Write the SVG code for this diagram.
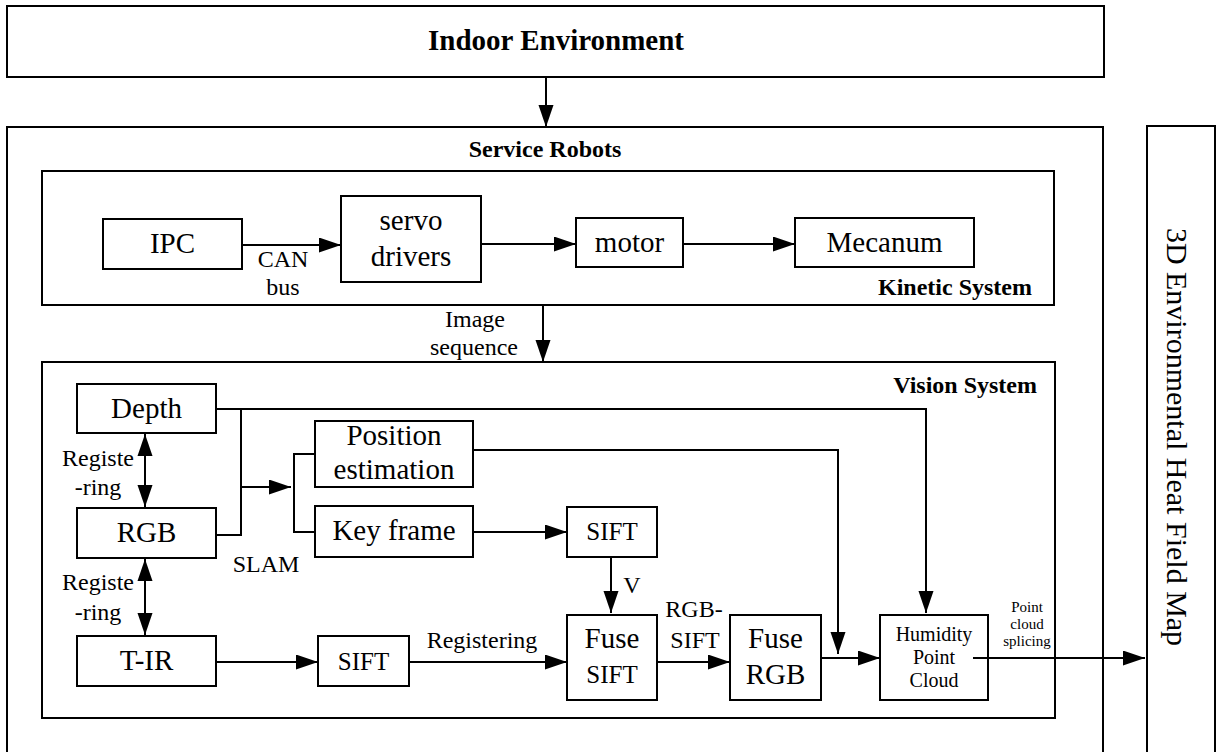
<svg xmlns="http://www.w3.org/2000/svg" width="1216" height="752" viewBox="0 0 1216 752">
<defs>
<marker id="ah" markerUnits="userSpaceOnUse" markerWidth="23" markerHeight="16" refX="22" refY="7.5" orient="auto">
<path d="M0,0 L22,7.5 L0,15 z" fill="#000"/>
</marker>
<marker id="ahs" markerUnits="userSpaceOnUse" markerWidth="23" markerHeight="16" refX="0" refY="7.5" orient="auto">
<path d="M22,0 L0,7.5 L22,15 z" fill="#000"/>
</marker>
<style>
text{font-family:"Liberation Serif","Times New Roman",serif;fill:#000}
.box{fill:#fff;stroke:#000;stroke-width:2}
.frame{fill:none;stroke:#000;stroke-width:2}
.n{font-size:29px;text-anchor:middle}
.s{font-size:25px;text-anchor:middle}
.b{font-size:24px;font-weight:bold}
.l{font-size:24px;text-anchor:middle}
.hp{font-size:20px;text-anchor:middle}
.sm{font-size:15px;text-anchor:middle}
.c{fill:none;stroke:#000;stroke-width:2}
.a{marker-end:url(#ah)}
.d{marker-start:url(#ahs);marker-end:url(#ah)}
</style>
</defs>
<rect width="1216" height="752" fill="#fff"/>

<g id="indoor">
<rect class="box" x="7" y="6" width="1097" height="71"/>
<text class="b" x="556" y="50" text-anchor="middle" style="font-size:29px">Indoor Environment</text>
</g>

<g id="service-robots">
<rect class="frame" x="7" y="127" width="1096" height="650"/>
<text class="b" x="545" y="157" text-anchor="middle">Service Robots</text>
</g>

<g id="map3d">
<rect class="frame" x="1147" y="126" width="68" height="650"/>
<text transform="translate(1167,437) rotate(90)" style="font-size:30px" text-anchor="middle">3D Environmental Heat Field Map</text>
</g>

<g id="kinetic-system">
<rect class="frame" x="42" y="171" width="1012" height="134"/>
<text class="b" x="1032" y="295" text-anchor="end">Kinetic System</text>
</g>

<g id="ipc"><rect class="box" x="103" y="219" width="139" height="50"/><text class="n" x="172.5" y="253">IPC</text></g>
<g id="servo"><rect class="box" x="341" y="196" width="140" height="86"/><text class="n" x="411" y="230">servo</text><text class="n" x="411" y="266">drivers</text></g>
<g id="motor"><rect class="box" x="576" y="218" width="107" height="49"/><text class="n" x="629.5" y="252">motor</text></g>
<g id="mecanum"><rect class="box" x="795" y="218" width="179" height="49"/><text class="n" x="884.5" y="252">Mecanum</text></g>

<g id="vision-system">
<rect class="frame" x="42" y="362" width="1013" height="356"/>
<text class="b" x="1037" y="393" text-anchor="end">Vision System</text>
</g>

<g id="depth"><rect class="box" x="77" y="384" width="139" height="49"/><text class="n" x="146.5" y="418">Depth</text></g>
<g id="rgb"><rect class="box" x="77" y="508" width="139" height="50"/><text class="n" x="146.5" y="542">RGB</text></g>
<g id="tir"><rect class="box" x="77" y="636" width="139" height="50"/><text class="n" x="146.5" y="670">T-IR</text></g>
<g id="position"><rect class="box" x="315" y="421" width="158" height="66"/><text class="n" x="394" y="445">Position</text><text class="n" x="394" y="479">estimation</text></g>
<g id="keyframe"><rect class="box" x="315" y="506" width="158" height="51"/><text class="n" x="394" y="540">Key frame</text></g>
<g id="sift-top"><rect class="box" x="567" y="507" width="90" height="50"/><text class="s" x="612" y="540">SIFT</text></g>
<g id="sift-bottom"><rect class="box" x="318" y="636" width="91" height="50"/><text class="s" x="363.5" y="670">SIFT</text></g>
<g id="fuse-sift"><rect class="box" x="567" y="615" width="90" height="85"/><text class="n" x="612" y="648">Fuse</text><text class="s" x="612" y="683">SIFT</text></g>
<g id="fuse-rgb"><rect class="box" x="730" y="615" width="91" height="85"/><text class="n" x="775.5" y="648">Fuse</text><text class="n" x="775.5" y="684">RGB</text></g>
<g id="humidity"><rect class="box" x="880" y="615" width="108" height="85"/><text class="hp" x="934" y="641">Humidity</text><text class="hp" x="934" y="664">Point</text><text class="hp" x="934" y="687">Cloud</text></g>

<g id="connectors">
<line class="c a" x1="546" y1="77" x2="546" y2="127"/>
<line class="c a" x1="242" y1="245" x2="341" y2="245"/>
<line class="c a" x1="481" y1="244" x2="576" y2="244"/>
<line class="c a" x1="683" y1="244" x2="795" y2="244"/>
<line class="c a" x1="543" y1="305" x2="543" y2="362"/>
<polyline class="c a" points="216,409 926,409 926,613"/>
<polyline class="c" points="241,409 241,535 216,535"/>
<line class="c a" x1="241" y1="487" x2="291" y2="487"/>
<polyline class="c" points="315,454 294,454 294,532 315,532"/>
<polyline class="c a" points="473,450 838,450 838,654"/>
<line class="c a" x1="473" y1="532" x2="567" y2="532"/>
<line class="c a" x1="611" y1="557" x2="611" y2="613"/>
<line class="c a" x1="216" y1="662" x2="318" y2="662"/>
<line class="c a" x1="409" y1="662" x2="567" y2="662"/>
<line class="c a" x1="657" y1="662" x2="730" y2="662"/>
<line class="c a" x1="821" y1="658" x2="880" y2="658"/>
<line class="c a" x1="973" y1="658" x2="1145" y2="658"/>
<line class="c d" x1="145" y1="434" x2="145" y2="507"/>
<line class="c d" x1="145" y1="559" x2="145" y2="635"/>
</g>

<g id="labels">
<text class="l" x="283" y="267">CAN</text>
<text class="l" x="283" y="295">bus</text>
<text class="l" x="475" y="327">Image</text>
<text class="l" x="474" y="355">sequence</text>
<text class="l" x="98" y="466">Registe</text>
<text class="l" x="98" y="495">-ring</text>
<text class="l" x="98" y="590">Registe</text>
<text class="l" x="98" y="620">-ring</text>
<text class="l" x="266" y="572">SLAM</text>
<text class="l" x="482" y="648">Registering</text>
<text class="l" x="632" y="593">V</text>
<text class="l" x="694" y="617">RGB-</text>
<text class="l" x="695" y="648">SIFT</text>
<text class="sm" x="1027" y="612">Point</text>
<text class="sm" x="1027" y="629">cloud</text>
<text class="sm" x="1027" y="646">splicing</text>
</g>
</svg>
